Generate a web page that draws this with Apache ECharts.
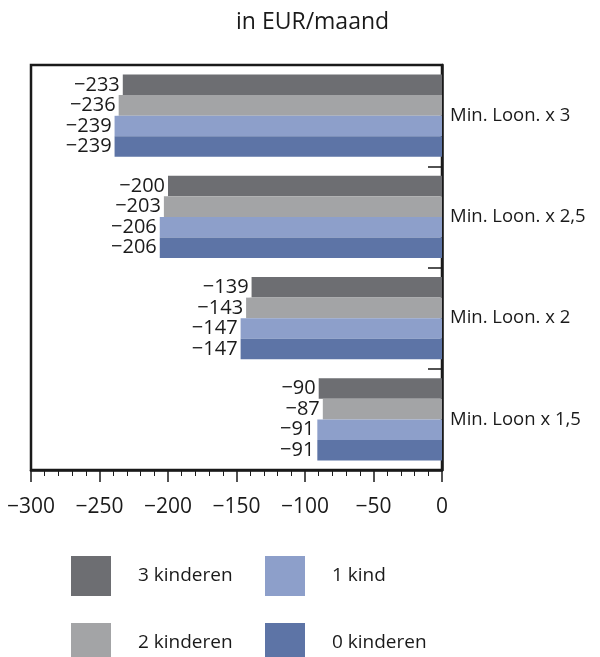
<!DOCTYPE html>
<html><head><meta charset="utf-8">
<script src="https://cdn.jsdelivr.net/npm/echarts@6/dist/echarts.min.js"></script>
<style>html,body{margin:0;padding:0;background:#fff}#c{width:600px;height:657px}</style>
</head><body><div id="c"></div>
<script>
const categories = ['Min. Loon. x 3', 'Min. Loon. x 2,5', 'Min. Loon. x 2', 'Min. Loon x 1,5'];
const seriesNames = ['3 kinderen', '2 kinderen', '1 kind', '0 kinderen'];
const kinderen3 = [-233, -200, -139, -90];
const kinderen2 = [-236, -203, -143, -87];
const kind1 = [-239, -206, -147, -91];
const kinderen0 = [-239, -206, -147, -91];
const colors = ['#6d6e72', '#a3a4a6', '#8d9fca', '#5d74a6'];
const values = [kinderen3, kinderen2, kind1, kinderen0];

const FONT = 'Open Sans';
const minus = v => String(v).replace('-', '\u2212');
const legendPos = [[71, 556], [71, 623], [265, 556], [265, 623]];

const chart = echarts.init(document.getElementById('c'), null, {renderer: 'canvas'});
chart.setOption({
  animation: false,
  backgroundColor: '#fff',
  textStyle: {fontFamily: FONT},
  title: {text: 'in EUR/maand', left: 231, top: 6,
    textStyle: {fontFamily: FONT, fontSize: 23, fontWeight: 'normal', color: '#1a1a1a'}},
  grid: {left: 31, right: 158, top: 65, bottom: 187, show: true, borderColor: '#1a1a1a', borderWidth: 2.5, containLabel: false},
  legend: seriesNames.map((n, i) => ({
    data: [n], left: legendPos[i][0], top: legendPos[i][1], padding: 0,
    itemWidth: 40, itemHeight: 40, icon: 'rect',
    textStyle: {fontFamily: FONT, fontSize: 19, color: '#1a1a1a', padding: [0, 0, 0, 22]}
  })),
  xAxis: {type: 'value', min: -300, max: 0, interval: 50,
    axisLine: {show: true, lineStyle: {color: '#1a1a1a', width: 2.5}},
    axisTick: {show: true, length: 12, lineStyle: {color: '#1a1a1a', width: 1.5}},
    minorTick: {show: true, splitNumber: 5, length: 6, lineStyle: {color: '#1a1a1a', width: 1}},
    splitLine: {show: false},
    axisLabel: {formatter: minus, fontFamily: FONT, fontSize: 21, color: '#1a1a1a', margin: 27}},
  yAxis: {type: 'category', data: categories, inverse: true, position: 'right',
    axisLine: {show: true, lineStyle: {color: '#1a1a1a', width: 2.5}},
    axisTick: {show: true, inside: true, length: 14, lineStyle: {color: '#1a1a1a', width: 1.5}},
    axisLabel: {fontFamily: FONT, fontSize: 18.5, color: '#1a1a1a', margin: 8}},
  series: seriesNames.map((n, i) => ({
    name: n, type: 'bar', data: values[i], barGap: '0%', barCategoryGap: '19%',
    itemStyle: {color: colors[i]},
    label: {show: true, position: 'left', distance: 2, formatter: p => minus(p.value),
      fontFamily: FONT, fontSize: 20, color: '#1a1a1a', backgroundColor: '#fff', padding: [0, 1, 0, 1], lineHeight: 20}
  }))
});
</script></body></html>
